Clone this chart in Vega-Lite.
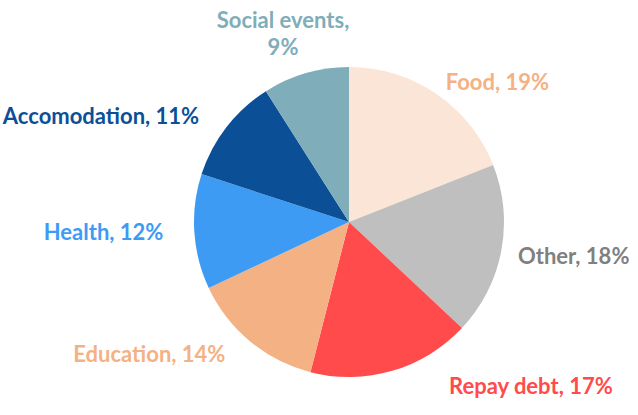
{
  "$schema": "https://vega.github.io/schema/vega-lite/v6.json",
  "autosize": "none",
  "width": 578,
  "height": 386,
  "padding": {"left": 60, "top": 29, "right": 0, "bottom": 0},
  "background": "white",
  "config": {"view": {"stroke": null}},
  "data": {"values": [
    {"category": "Food", "pct": 19, "ord": 1},
    {"category": "Other", "pct": 18, "ord": 2},
    {"category": "Repay debt", "pct": 17, "ord": 3},
    {"category": "Education", "pct": 14, "ord": 4},
    {"category": "Health", "pct": 12, "ord": 5},
    {"category": "Accomodation", "pct": 11, "ord": 6},
    {"category": "Social events", "pct": 9, "ord": 7}
  ]},
  "transform": [{"calculate": "datum.category + (datum.category == 'Social events' ? ',\\n' : ', ') + datum.pct + '%'", "as": "label"}],
  "encoding": {
    "theta": {"field": "pct", "type": "quantitative", "stack": true},
    "order": {"field": "ord", "type": "quantitative"}
  },
  "layer": [
    {
      "mark": {"type": "arc", "outerRadius": 155},
      "encoding": {
        "color": {
          "field": "category", "type": "nominal", "legend": null,
          "scale": {
            "domain": ["Food", "Other", "Repay debt", "Education", "Health", "Accomodation", "Social events"],
            "range": ["#FBE5D6", "#BFBFBF", "#FF4B4B", "#F4B183", "#3E9BF3", "#0B5096", "#7FADB9"]
          }
        }
      }
    },
    {
      "mark": {"type": "text", "radius": 172, "align": "left", "baseline": "middle", "dy": 3, "font": "Lato", "fontWeight": "bold", "fontSize": 22},
      "encoding": {
        "text": {"condition": {"test": "indexof(['Food','Other'], datum.category) >= 0", "field": "label"}, "value": ""},
        "color": {
          "field": "category", "type": "nominal", "legend": null,
          "scale": {
            "domain": ["Food", "Other", "Repay debt", "Education", "Health", "Accomodation", "Social events"],
            "range": ["#F4B183", "#808080", "#FF4B4B", "#F4B183", "#3E9BF3", "#0B5096", "#7FADB9"]
          }
        }
      }
    },
    {
      "mark": {"type": "text", "radius": 172, "align": "left", "baseline": "middle", "dx": 52, "font": "Lato", "fontWeight": "bold", "fontSize": 22},
      "encoding": {
        "text": {"condition": {"test": "datum.category == 'Repay debt'", "field": "label"}, "value": ""},
        "color": {
          "field": "category", "type": "nominal", "legend": null,
          "scale": {
            "domain": ["Food", "Other", "Repay debt", "Education", "Health", "Accomodation", "Social events"],
            "range": ["#F4B183", "#808080", "#FF4B4B", "#F4B183", "#3E9BF3", "#0B5096", "#7FADB9"]
          }
        }
      }
    },
    {
      "mark": {"type": "text", "radius": 172, "align": "right", "baseline": "middle", "dx": -14, "font": "Lato", "fontWeight": "bold", "fontSize": 22},
      "encoding": {
        "text": {"condition": {"test": "indexof(['Education','Health','Accomodation'], datum.category) >= 0", "field": "label"}, "value": ""},
        "color": {
          "field": "category", "type": "nominal", "legend": null,
          "scale": {
            "domain": ["Food", "Other", "Repay debt", "Education", "Health", "Accomodation", "Social events"],
            "range": ["#F4B183", "#808080", "#FF4B4B", "#F4B183", "#3E9BF3", "#0B5096", "#7FADB9"]
          }
        }
      }
    },
    {
      "mark": {"type": "text", "radius": 172, "align": "center", "baseline": "bottom", "lineBreak": "\n", "lineHeight": 27, "dx": -18, "dy": -24, "font": "Lato", "fontWeight": "bold", "fontSize": 22},
      "encoding": {
        "text": {"condition": {"test": "datum.category == 'Social events'", "field": "label"}, "value": ""},
        "color": {
          "field": "category", "type": "nominal", "legend": null,
          "scale": {
            "domain": ["Food", "Other", "Repay debt", "Education", "Health", "Accomodation", "Social events"],
            "range": ["#F4B183", "#808080", "#FF4B4B", "#F4B183", "#3E9BF3", "#0B5096", "#7FADB9"]
          }
        }
      }
    }
  ],
  "resolve": {"scale": {"color": "independent"}}
}
